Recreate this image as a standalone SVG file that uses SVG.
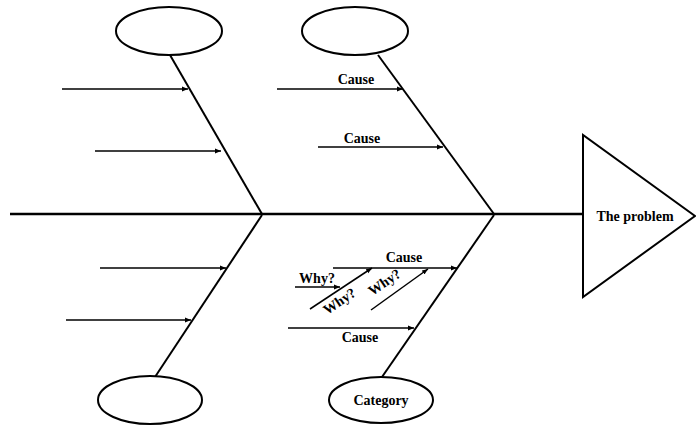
<svg xmlns="http://www.w3.org/2000/svg" width="696" height="425" viewBox="0 0 696 425">
<style>
.bone{stroke:#000;stroke-width:2;fill:none}
.arr{stroke:#000;stroke-width:1.5;fill:none;marker-end:url(#ah)}
.node{fill:#fff;stroke:#000;stroke-width:2}
text{font-family:"Liberation Serif","Times New Roman",serif;font-weight:bold;font-size:14px;fill:#000;text-anchor:middle}
</style>
<defs>
<marker id="ah" viewBox="0 0 10 10" refX="10" refY="5" markerWidth="6" markerHeight="6" markerUnits="userSpaceOnUse" orient="auto">
<path d="M0,1 L10,5 L0,9 z" fill="#000"/>
</marker>
</defs>
<g id="connectors">
<line class="bone" x1="10" y1="214" x2="583" y2="214" style="stroke-width:2.5"/>
<line class="bone" x1="170" y1="55" x2="262" y2="214"/>
<line class="bone" x1="378" y1="55" x2="494" y2="214"/>
<line class="bone" x1="262" y1="215" x2="155" y2="377"/>
<line class="bone" x1="494" y1="215" x2="382" y2="377"/>
<line class="arr" x1="62" y1="89" x2="188" y2="89"/>
<line class="arr" x1="95" y1="151" x2="221" y2="151"/>
<line class="arr" x1="277" y1="89" x2="403" y2="89"/>
<line class="arr" x1="318" y1="147" x2="443" y2="147"/>
<line class="arr" x1="100" y1="268" x2="226" y2="268"/>
<line class="arr" x1="66" y1="320" x2="191" y2="320"/>
<line class="arr" x1="333" y1="268" x2="457" y2="268"/>
<line class="arr" x1="288" y1="328" x2="414" y2="328"/>
<line class="arr" x1="295" y1="287" x2="340" y2="287"/>
<line class="arr" x1="310" y1="309" x2="372" y2="268"/>
<line class="arr" x1="371" y1="310" x2="428" y2="269"/>
</g>
<g id="labels">
<text x="356" y="84">Cause</text>
<text x="362" y="143">Cause</text>
<text x="404" y="262">Cause</text>
<text x="360" y="342">Cause</text>
<text x="317" y="283">Why?</text>
<text transform="translate(342,305) rotate(-34)">Why?</text>
<text transform="translate(387,286) rotate(-34)">Why?</text>
</g>
<g id="problem">
<polygon class="node" points="583,135 583,297 695,216"/>
<text x="635" y="221">The problem</text>
</g>
<g id="cat-top-left"><ellipse class="node" cx="169" cy="31" rx="53" ry="24"/></g>
<g id="cat-top-mid"><ellipse class="node" cx="355" cy="31" rx="53" ry="24"/></g>
<g id="cat-bottom-left"><ellipse class="node" cx="150" cy="400" rx="52" ry="24"/></g>
<g id="cat-bottom-mid"><ellipse class="node" cx="381" cy="400" rx="52" ry="23"/><text x="381" y="405">Category</text></g>
</svg>
